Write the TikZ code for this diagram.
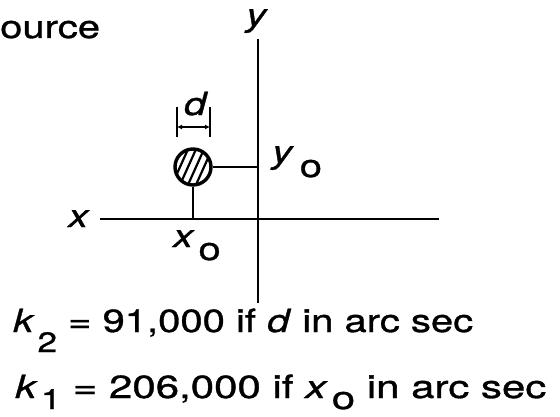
\documentclass[tikz,border=0pt]{standalone}
\usepackage{graphicx}
\usepackage{fontspec}
\setmainfont{TeX Gyre Heros}[FakeStretch=1.25, FakeBold=1]
\usetikzlibrary{calc,arrows.meta}
\tikzset{
axis line/.style={line width=2.8pt},
lbl/.style={inner sep=0pt, font=\fontsize{32}{38}\selectfont},
dim arrow/.style={line width=2pt, {Latex[length=5pt,width=5pt]}-{Latex[length=5pt,width=5pt]}},
}
\newcommand{\lowsub}[2]{\raisebox{-#1}{#2}}
\newcommand{\subfont}{\fontsize{28}{28}\selectfont}

\begin{document}
\begin{tikzpicture}[x=1pt,y=1pt]
\useasboundingbox (0,0) rectangle (560,416);
\node[lbl, anchor=base west] (src) at (0,378) {ource};

\coordinate (yt) at (258,377);
\coordinate (yb) at (258,113);
\coordinate (xl) at (100,197);
\coordinate (xr) at (439,197);
\node[lbl, anchor=base] (ylab) at (257,390) {\textit{y}};
\node[lbl, anchor=base] (xlab) at (79,189) {\textit{x}};
\draw[axis line] (yt) -- (yb);
\draw[axis line] (xl) -- (xr);

% hatched source disk
\node[circle, draw, line width=3.4pt, minimum size=36pt, inner sep=0pt] (disk) at (193,249) {};
\begin{scope}
\clip (disk.center) circle (17pt);
\foreach \s in {-13,-5,3,11}
  \draw[line width=2.2pt] ($(disk.center)+(\s,0)+(-9,-20)$) -- ++(18,40);
\end{scope}
\draw[axis line] (disk.east) -- (disk.east -| yt);
\draw[axis line] (disk.south) -- (disk.south |- xl);

% size d
\coordinate (dl) at (177,289);
\coordinate (dr) at (210,289);
\draw[line width=2pt] ($(dl)+(0,-10)$) -- ($(dl)+(0,20)$);
\draw[line width=2pt] ($(dr)+(0,-10)$) -- ($(dr)+(0,20)$);
\draw[dim arrow] (dl) -- (dr);
\node[lbl, anchor=base] (dlab) at (196,301) {\textit{d}};

\node[lbl, anchor=base west] (y0) at (272,253) {\textit{y}\hspace{6pt}\lowsub{14pt}{o}};
\node[lbl, anchor=base west] (x0) at (173,169) {\textit{x}\hspace{4pt}\lowsub{13pt}{o}};

\node[lbl, anchor=base west] (k2) at (13,84)
  {\textit{k}\hspace{3pt}\lowsub{20pt}{\subfont 2} = 91,000 if \textit{d} in arc sec};
\node[lbl, anchor=base west] (k1) at (15,18)
  {\scalebox{1.05}[1]{\textit{k}\hspace{3pt}\lowsub{11pt}{\subfont 1} = 206,000 if \textit{x}\hspace{4pt}\lowsub{11pt}{o} in arc sec}};
\end{tikzpicture}
\end{document}
